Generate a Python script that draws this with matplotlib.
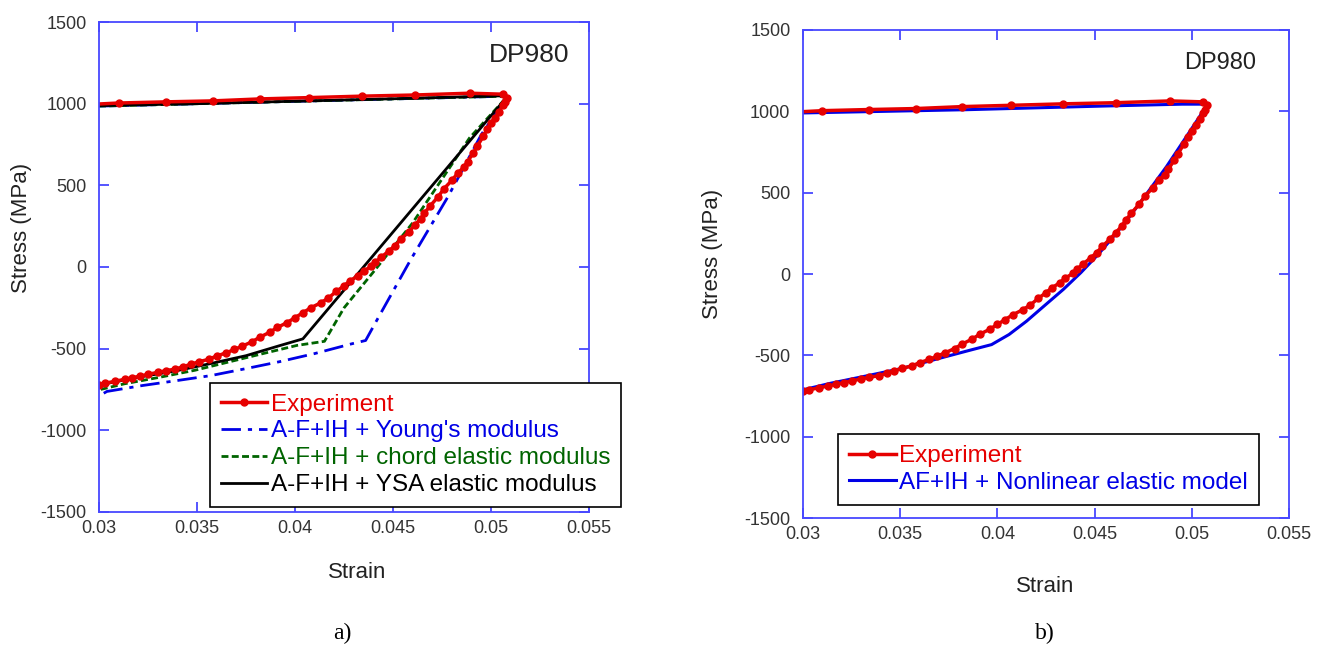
import matplotlib
matplotlib.use("Agg")
import matplotlib.pyplot as plt

plt.rcParams['font.family'] = ['Liberation Sans', 'DejaVu Sans']
plt.rcParams['axes.unicode_minus'] = False

# Experiment (shared by both panels): loading branch, then unloading / reverse loading
exp_strain = [0.0300, 0.0310, 0.0334, 0.0358, 0.0382, 0.0407, 0.0434, 0.0461, 0.0489, 0.0506,
              0.0508, 0.0507, 0.0506, 0.0504, 0.0502, 0.0500, 0.0498, 0.0496, 0.0493, 0.0491,
              0.0488, 0.0486, 0.0483, 0.0480, 0.0476, 0.0473, 0.0469, 0.0466, 0.0464, 0.0461,
              0.0458, 0.0454, 0.0451, 0.0448, 0.0444, 0.0441, 0.0439, 0.0435, 0.0432, 0.0428,
              0.0425, 0.0421, 0.0417, 0.0413, 0.0408, 0.0404, 0.0400, 0.0396, 0.0391, 0.0387,
              0.0382, 0.0378, 0.0373, 0.0369, 0.0365, 0.0360, 0.0356, 0.0351, 0.0347, 0.0343,
              0.0339, 0.0334, 0.0330, 0.0325, 0.0321, 0.0317, 0.0313, 0.0308, 0.0303, 0.0300]
exp_stress = [998, 1004, 1011, 1017, 1029, 1037, 1046, 1053, 1064, 1058,
              1037, 1010, 990, 950, 915, 880, 845, 800, 740, 700,
              645, 610, 575, 530, 480, 430, 375, 330, 295, 255,
              215, 170, 130, 100, 60, 30, 5, -25, -55, -85,
              -115, -150, -190, -220, -250, -280, -310, -340, -370, -400,
              -430, -458, -485, -505, -525, -545, -565, -580, -595, -610,
              -625, -635, -645, -657, -668, -678, -688, -700, -712, -722]

# a) A-F+IH with different elastic moduli
young_strain = [0.0300, 0.0505, 0.0508, 0.0495, 0.0478, 0.0459, 0.0442, 0.0436, 0.0429,
                0.0410, 0.0392, 0.0375, 0.0357, 0.0340, 0.0322, 0.0304, 0.0300]
young_stress = [985, 1045, 1040, 810, 430, 45, -320, -450, -470,
                -530, -580, -622, -665, -695, -726, -762, -790]

chord_strain = [0.0300, 0.0505, 0.0508, 0.0489, 0.0460, 0.0440, 0.0425, 0.0415, 0.0401,
                0.0383, 0.0366, 0.0349, 0.0331, 0.0313, 0.0300]
chord_stress = [985, 1045, 1040, 790, 270, -30, -250, -455, -480,
                -532, -582, -632, -675, -715, -752]

ysa_strain = [0.0300, 0.0350, 0.0400, 0.0450, 0.0505, 0.0508, 0.0404, 0.0392, 0.0375,
              0.0357, 0.0340, 0.0322, 0.0304, 0.0300]
ysa_stress = [988, 1000, 1015, 1030, 1048, 1040, -440, -482, -543,
              -591, -634, -671, -713, -735]

# b) AF+IH with nonlinear elastic model
nl_strain = [0.0300, 0.0384, 0.0453, 0.0495, 0.0506, 0.0508, 0.0497, 0.0487, 0.0476, 0.0466,
             0.0459, 0.0452, 0.0443, 0.0434, 0.0424, 0.0415, 0.0406, 0.0397, 0.0387, 0.0369,
             0.0351, 0.0332, 0.0314, 0.0300]
nl_stress = [990, 1010, 1032, 1044, 1044, 1040, 840, 660, 480, 320,
             220, 122, 9, -94, -197, -290, -372, -434, -465, -522,
             -580, -628, -672, -712]

x_ticks = [0.03, 0.035, 0.04, 0.045, 0.05, 0.055]
x_tick_labels = ['0.03', '0.035', '0.04', '0.045', '0.05', '0.055']
y_ticks = [-1500, -1000, -500, 0, 500, 1000, 1500]

RED = '#e60000'
BLUE = '#0000e6'
GREEN = '#006400'
SPINE = '#4848ff'


def style_axes(ax):
    ax.set_xlim(0.03, 0.055)
    ax.set_ylim(-1500, 1500)
    ax.set_xticks(x_ticks)
    ax.set_xticklabels(x_tick_labels)
    ax.set_yticks(y_ticks)
    for s in ax.spines.values():
        s.set_color(SPINE)
        s.set_linewidth(1.3)
    ax.tick_params(direction='in', length=7, width=1.3, color=SPINE,
                   labelsize=13, labelcolor='#333333', top=True, right=True)
    ax.tick_params(axis='y', pad=9)
    ax.tick_params(axis='x', pad=6)


def style_legend(leg, colors):
    leg.get_frame().set_linewidth(1.2)
    for txt, col in zip(leg.get_texts(), colors):
        txt.set_color(col)


leg_kw = dict(loc='upper left', fontsize=17.5, handlelength=1.9, handletextpad=0.15,
              labelspacing=0.2, borderpad=0.45, borderaxespad=0, fancybox=False,
              framealpha=1, edgecolor='black')

fig = plt.figure(figsize=(13.22, 6.49), dpi=100)
ax1 = fig.add_axes([0.0749, 0.2111, 0.3707, 0.7550])
ax2 = fig.add_axes([0.6074, 0.2018, 0.3676, 0.7520])

# panel a)
h_y, = ax1.plot(young_strain, young_stress, color=BLUE, lw=2, ls=(0, (7, 2.5, 1.5, 2.5)),
                label="A-F+IH + Young's modulus")
h_c, = ax1.plot(chord_strain, chord_stress, color=GREEN, lw=2, ls=(0, (2.5, 1.2)),
                label='A-F+IH + chord elastic modulus')
h_k, = ax1.plot(ysa_strain, ysa_stress, color='black', lw=2,
                label='A-F+IH + YSA elastic modulus')
h_e, = ax1.plot(exp_strain, exp_stress, color=RED, lw=2.5, marker='o', ms=5,
                markevery=slice(1, None), label='Experiment')
style_axes(ax1)
ax1.text(0.0540, 1300, 'DP980', fontsize=19, ha='right', va='center', color='#222222')
leg1 = ax1.legend(handles=[h_e, h_y, h_c, h_k], bbox_to_anchor=(0.226, 0.264), **leg_kw)
style_legend(leg1, [RED, BLUE, GREEN, 'black'])

# panel b)
h_n, = ax2.plot(nl_strain, nl_stress, color=BLUE, lw=2.2,
                label='AF+IH + Nonlinear elastic model')
h_e2, = ax2.plot(exp_strain, exp_stress, color=RED, lw=2.5, marker='o', ms=5,
                 markevery=slice(1, None), label='Experiment')
style_axes(ax2)
ax2.text(0.0533, 1300, 'DP980', fontsize=17, ha='right', va='center', color='#222222')
leg2 = ax2.legend(handles=[h_e2, h_n], bbox_to_anchor=(0.073, 0.172), **leg_kw)
style_legend(leg2, [RED, BLUE])

# axis titles and panel captions
fig.text(22 / 1322, 1 - 228 / 649, 'Stress (MPa)', rotation=90, fontsize=16,
         ha='center', va='center', color='#222222')
fig.text(712 / 1322, 1 - 254 / 649, 'Stress (MPa)', rotation=90, fontsize=16,
         ha='center', va='center', color='#222222')
fig.text(357 / 1322, 1 - 572 / 649, 'Strain', fontsize=16, ha='center', va='center',
         color='#222222')
fig.text(1045 / 1322, 1 - 586 / 649, 'Strain', fontsize=16, ha='center', va='center',
         color='#222222')
fig.text(342 / 1322, 1 - 633 / 649, 'a)', fontsize=17, ha='center', va='center',
         family='Liberation Serif')
fig.text(1045 / 1322, 1 - 633 / 649, 'b)', fontsize=17, ha='center', va='center',
         family='Liberation Serif')

fig.savefig('out.png', dpi=100)
